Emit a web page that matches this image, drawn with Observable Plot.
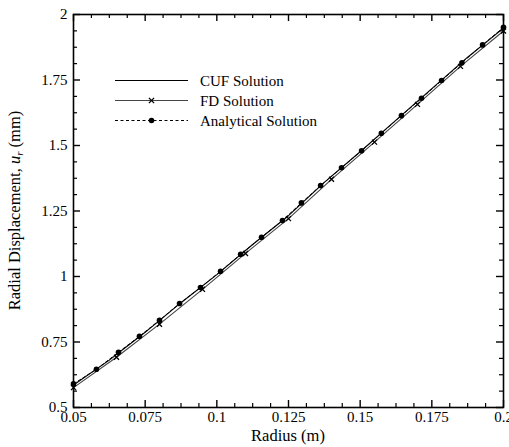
<!DOCTYPE html>
<html>
<head>
<meta charset="utf-8">
<script src="https://cdn.jsdelivr.net/npm/d3@7"></script>
<script src="https://cdn.jsdelivr.net/npm/@observablehq/plot@0.6"></script>
<style>
  html, body { margin: 0; padding: 0; background: white; overflow: hidden; }
  #chart svg { display: block; }
</style>
</head>
<body>
<div id="chart"></div>
<script>
// ---- data ----
const analyticalR = [0.05, 0.058, 0.0657, 0.073, 0.08, 0.087, 0.0943, 0.1013, 0.1083, 0.1156, 0.1229, 0.1295, 0.1362, 0.1435, 0.1505, 0.1574, 0.1644, 0.1714, 0.1784, 0.1855, 0.1927, 0.2];
const analyticalU = [0.59, 0.646, 0.711, 0.772, 0.833, 0.897, 0.958, 1.020, 1.085, 1.150, 1.214, 1.281, 1.347, 1.415, 1.480, 1.547, 1.614, 1.680, 1.748, 1.816, 1.884, 1.951];

const cufR = [0.05, 0.0625, 0.075, 0.0875, 0.1, 0.1125, 0.125, 0.1375, 0.15, 0.1625, 0.175, 0.1875, 0.2];
const cufU = [0.586, 0.681, 0.787, 0.900, 1.007, 1.122, 1.232, 1.359, 1.476, 1.597, 1.717, 1.837, 1.948];

const fdR = [0.05, 0.065, 0.08, 0.095, 0.11, 0.125, 0.14, 0.155, 0.17, 0.185, 0.2];
const fdU = [0.576, 0.692, 0.818, 0.951, 1.088, 1.221, 1.371, 1.513, 1.657, 1.802, 1.937];

const xTicks = [0.05, 0.075, 0.1, 0.125, 0.15, 0.175, 0.2];
const xTickLabels = ["0.05", "0.075", "0.1", "0.125", "0.15", "0.175", "0.2"];
const yTicks = [0.5, 0.75, 1, 1.25, 1.5, 1.75, 2];
const yTickLabels = ["0.5", "0.75", "1", "1.25", "1.5", "1.75", "2"];

const legendNames = ["CUF Solution", "FD Solution", "Analytical Solution"];
const xLabel = "Radius (m)";

// ---- build tables ----
const analytical = analyticalR.map((r, i) => ({r, u: analyticalU[i]}));
const cuf = cufR.map((r, i) => ({r, u: cufU[i]}));
const fd = fdR.map((r, i) => ({r, u: fdU[i]}));

const W = 509, H = 447, mL = 73, mR = 6, mT = 14, mB = 40;
const plotW = W - mL - mR, plotH = H - mT - mB;
const majLen = 7, minLen = 4;

const xMinor = d3.range(0, 25).map(i => 0.05 + i * 0.00625).filter(v => !xTicks.some(t => Math.abs(t - v) < 1e-9));
const yMinor = d3.range(0, 25).map(i => 0.5 + i * 0.0625).filter(v => !yTicks.some(t => Math.abs(t - v) < 1e-9));

const font = "'Liberation Serif', 'Times New Roman', serif";

// inward ticks on all four sides of the frame
function ticksX(ticks, len, sw) {
  return [
    Plot.tickX(ticks, {x: d => d, insetTop: plotH - len, stroke: "black", strokeWidth: sw}),
    Plot.tickX(ticks, {x: d => d, insetBottom: plotH - len, stroke: "black", strokeWidth: sw})
  ];
}
function ticksY(ticks, len, sw) {
  return [
    Plot.tickY(ticks, {y: d => d, insetRight: plotW - len, stroke: "black", strokeWidth: sw}),
    Plot.tickY(ticks, {y: d => d, insetLeft: plotW - len, stroke: "black", strokeWidth: sw})
  ];
}

const chart = Plot.plot({
  width: W, height: H,
  marginLeft: mL, marginRight: mR, marginTop: mT, marginBottom: mB,
  style: {fontFamily: font, fontSize: "15px", background: "white", color: "black", overflow: "hidden"},
  x: {domain: [0.05, 0.2]},
  y: {domain: [0.5, 2]},
  marks: [
    Plot.axisX({ticks: xTicks, tickSize: 0, tickPadding: 4, tickFormat: (d, i) => xTickLabels[i], label: null, fontSize: 15}),
    Plot.axisY({ticks: yTicks, tickSize: 0, tickPadding: 6, tickFormat: (d, i) => yTickLabels[i], label: null, fontSize: 15}),
    ...ticksX(xTicks, majLen, 1.4),
    ...ticksX(xMinor, minLen, 1.2),
    ...ticksY(yTicks, majLen, 1.4),
    ...ticksY(yMinor, minLen, 1.2),
    // series
    Plot.line(fd, {x: "r", y: "u", stroke: "#444", strokeWidth: 1.1}),
    Plot.line(cuf, {x: "r", y: "u", stroke: "black", strokeWidth: 1.1}),
    Plot.line(analytical, {x: "r", y: "u", stroke: "black", strokeWidth: 1, strokeDasharray: "3,2.5"}),
    Plot.dot(analytical, {x: "r", y: "u", fill: "black", r: 2.8}),
    Plot.dot(fd, {x: "r", y: "u", symbol: "times", stroke: "black", strokeWidth: 1.3, r: 2.4}),
    Plot.frame({stroke: "black", strokeWidth: 1.6})
  ]
});

document.getElementById("chart").appendChild(chart);

// ---- labels and legend ----
const svg = d3.select(chart);

svg.append("text")
  .attr("x", mL + plotW / 2).attr("y", 441)
  .attr("text-anchor", "middle")
  .style("font-family", font).style("font-size", "16.5px").attr("fill", "black")
  .text(xLabel);

const yl = svg.append("text")
  .attr("transform", `translate(20,${mT + plotH / 2}) rotate(-90)`)
  .attr("text-anchor", "middle")
  .style("font-family", font).style("font-size", "16.5px").attr("fill", "black");
yl.append("tspan").text("Radial Displacement, ");
yl.append("tspan").style("font-style", "italic").text("u");
yl.append("tspan").style("font-style", "italic").style("font-size", "11px").attr("dy", "3").text("r");
yl.append("tspan").attr("dy", "-3").text(" (mm)");

const lg = svg.append("g").style("font-family", font).style("font-size", "15px");
const lx1 = 115, lx2 = 188, ltx = 200, ly0 = 80.5, ldy = 20;
legendNames.forEach((name, i) => {
  const y = ly0 + i * ldy;
  const line = lg.append("line").attr("x1", lx1).attr("x2", lx2).attr("y1", y).attr("y2", y)
    .attr("stroke", i === 1 ? "#444" : "black").attr("stroke-width", 1.1);
  if (i === 2) line.attr("stroke-dasharray", "3,2.5");
  const cx = (lx1 + lx2) / 2;
  if (i === 1) {
    const s = 2.6;
    lg.append("path").attr("d", `M${cx - s},${y - s}L${cx + s},${y + s}M${cx - s},${y + s}L${cx + s},${y - s}`)
      .attr("stroke", "black").attr("stroke-width", 1.3);
  }
  if (i === 2) lg.append("circle").attr("cx", cx).attr("cy", y).attr("r", 2.8).attr("fill", "black");
  lg.append("text").attr("x", ltx).attr("y", y).attr("dy", "0.35em")
    .attr("text-anchor", "start").attr("fill", "black").text(name);
});
</script>
</body>
</html>
